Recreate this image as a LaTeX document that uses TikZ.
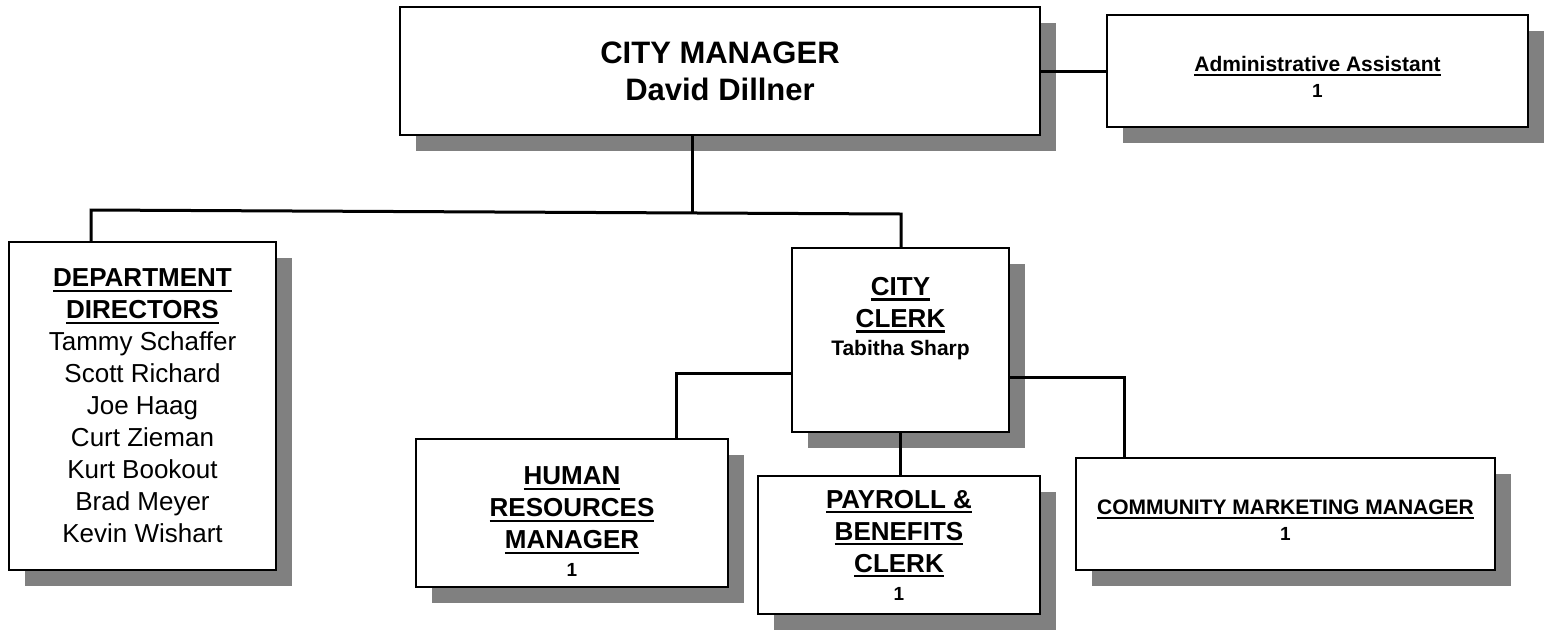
\documentclass[tikz,border=0pt]{standalone}
\usepackage{fontspec}
\setmainfont{Liberation Sans}
\usetikzlibrary{shadows,positioning}
\definecolor{shadowgray}{RGB}{128,128,128}
\newcommand{\uln}[1]{\setbox0\hbox{#1}\rlap{\rule[-0.2em]{\wd0}{0.08em}}\box0}
\tikzset{
  box/.style={draw, line width=2pt, fill=white, inner sep=0pt, align=center,
    drop shadow={shadow xshift=16pt, shadow yshift=-16pt, fill=shadowgray, opacity=1}},
  conn/.style={line width=3pt},
  big/.style={font=\fontsize{26}{32}\selectfont\bfseries},
  small/.style={font=\fontsize{21}{26}\selectfont\bfseries},
}
\begin{document}
\begin{tikzpicture}[x=1pt, y=-1pt]
    \useasboundingbox (0,0) rectangle (1546,630);
    % top row
    \node[box, minimum width=640pt, minimum height=128pt, font=\fontsize{31}{37}\selectfont\bfseries] (cm) at (720,71) {CITY MANAGER\\David Dillner};
    \node[box, minimum width=421pt, minimum height=112pt,
        label={[small, align=center, yshift=-6pt]center:{\uln{Administrative Assistant}\\{\fontsize{19}{26}\selectfont 1}}}] (admin) at (1317.5,71) {};
    % second row
    \node[box, minimum width=267pt, minimum height=328pt, font=\fontsize{26}{32}\selectfont] (dept) at (142.5,406)
        {\textbf{\uln{DEPARTMENT}}\\\textbf{\uln{DIRECTORS}}\\Tammy Schaffer\\Scott Richard\\Joe Haag\\Curt Zieman\\Kurt Bookout\\Brad Meyer\\Kevin Wishart};
    \node[box, minimum width=217pt, minimum height=184pt] (clerk) at (900.5,340) {};
    \node[big, inner sep=0pt, align=center, below=30pt of clerk.north] (clerktxt)
        {\uln{CITY}\\\uln{CLERK}\\[-4pt]{\fontsize{21}{26}\selectfont Tabitha Sharp}};
    % bottom row
    \node[box, minimum width=312pt, minimum height=148pt,
        label={[big, align=center, yshift=-9pt]center:{\uln{HUMAN}\\\uln{RESOURCES}\\\uln{MANAGER}\\[-4pt]{\fontsize{19}{24}\selectfont 1}}}] (hr) at (572,513) {};
    \node[box, big, minimum width=282pt, minimum height=138pt] (pay) at (899,545) {\uln{PAYROLL \&}\\\uln{BENEFITS}\\\uln{CLERK}\\[-4pt]{\fontsize{19}{24}\selectfont 1}};
    \node[box, minimum width=419pt, minimum height=112pt,
        label={[small, align=center, yshift=-6pt]center:{\uln{COMMUNITY MARKETING MANAGER}\\{\fontsize{19}{26}\selectfont 1}}}] (comm) at (1285.5,514) {};
    % lines
    \coordinate (busL) at (91,210);
    \coordinate (busM) at (692,212);
    \coordinate (busR) at (901,214);
    \coordinate (hrturn) at (676,373);
    \coordinate (commturn) at (1124,377);
    \draw[conn] (cm.east) -- (admin.west);
    \draw[conn] (cm.south -| busM) -- (busM);
    \draw[conn] (dept.north -| busL) -- (busL) -- (busR) -- (busR |- clerk.north);
    \draw[conn] (clerk.west |- hrturn) -- (hrturn) -- (hrturn |- hr.north);
    \draw[conn] (clerk.east |- commturn) -- (commturn) -- (commturn |- comm.north);
    \draw[conn] (clerk.south) -- (clerk.south |- pay.north);
\end{tikzpicture}
\end{document}
